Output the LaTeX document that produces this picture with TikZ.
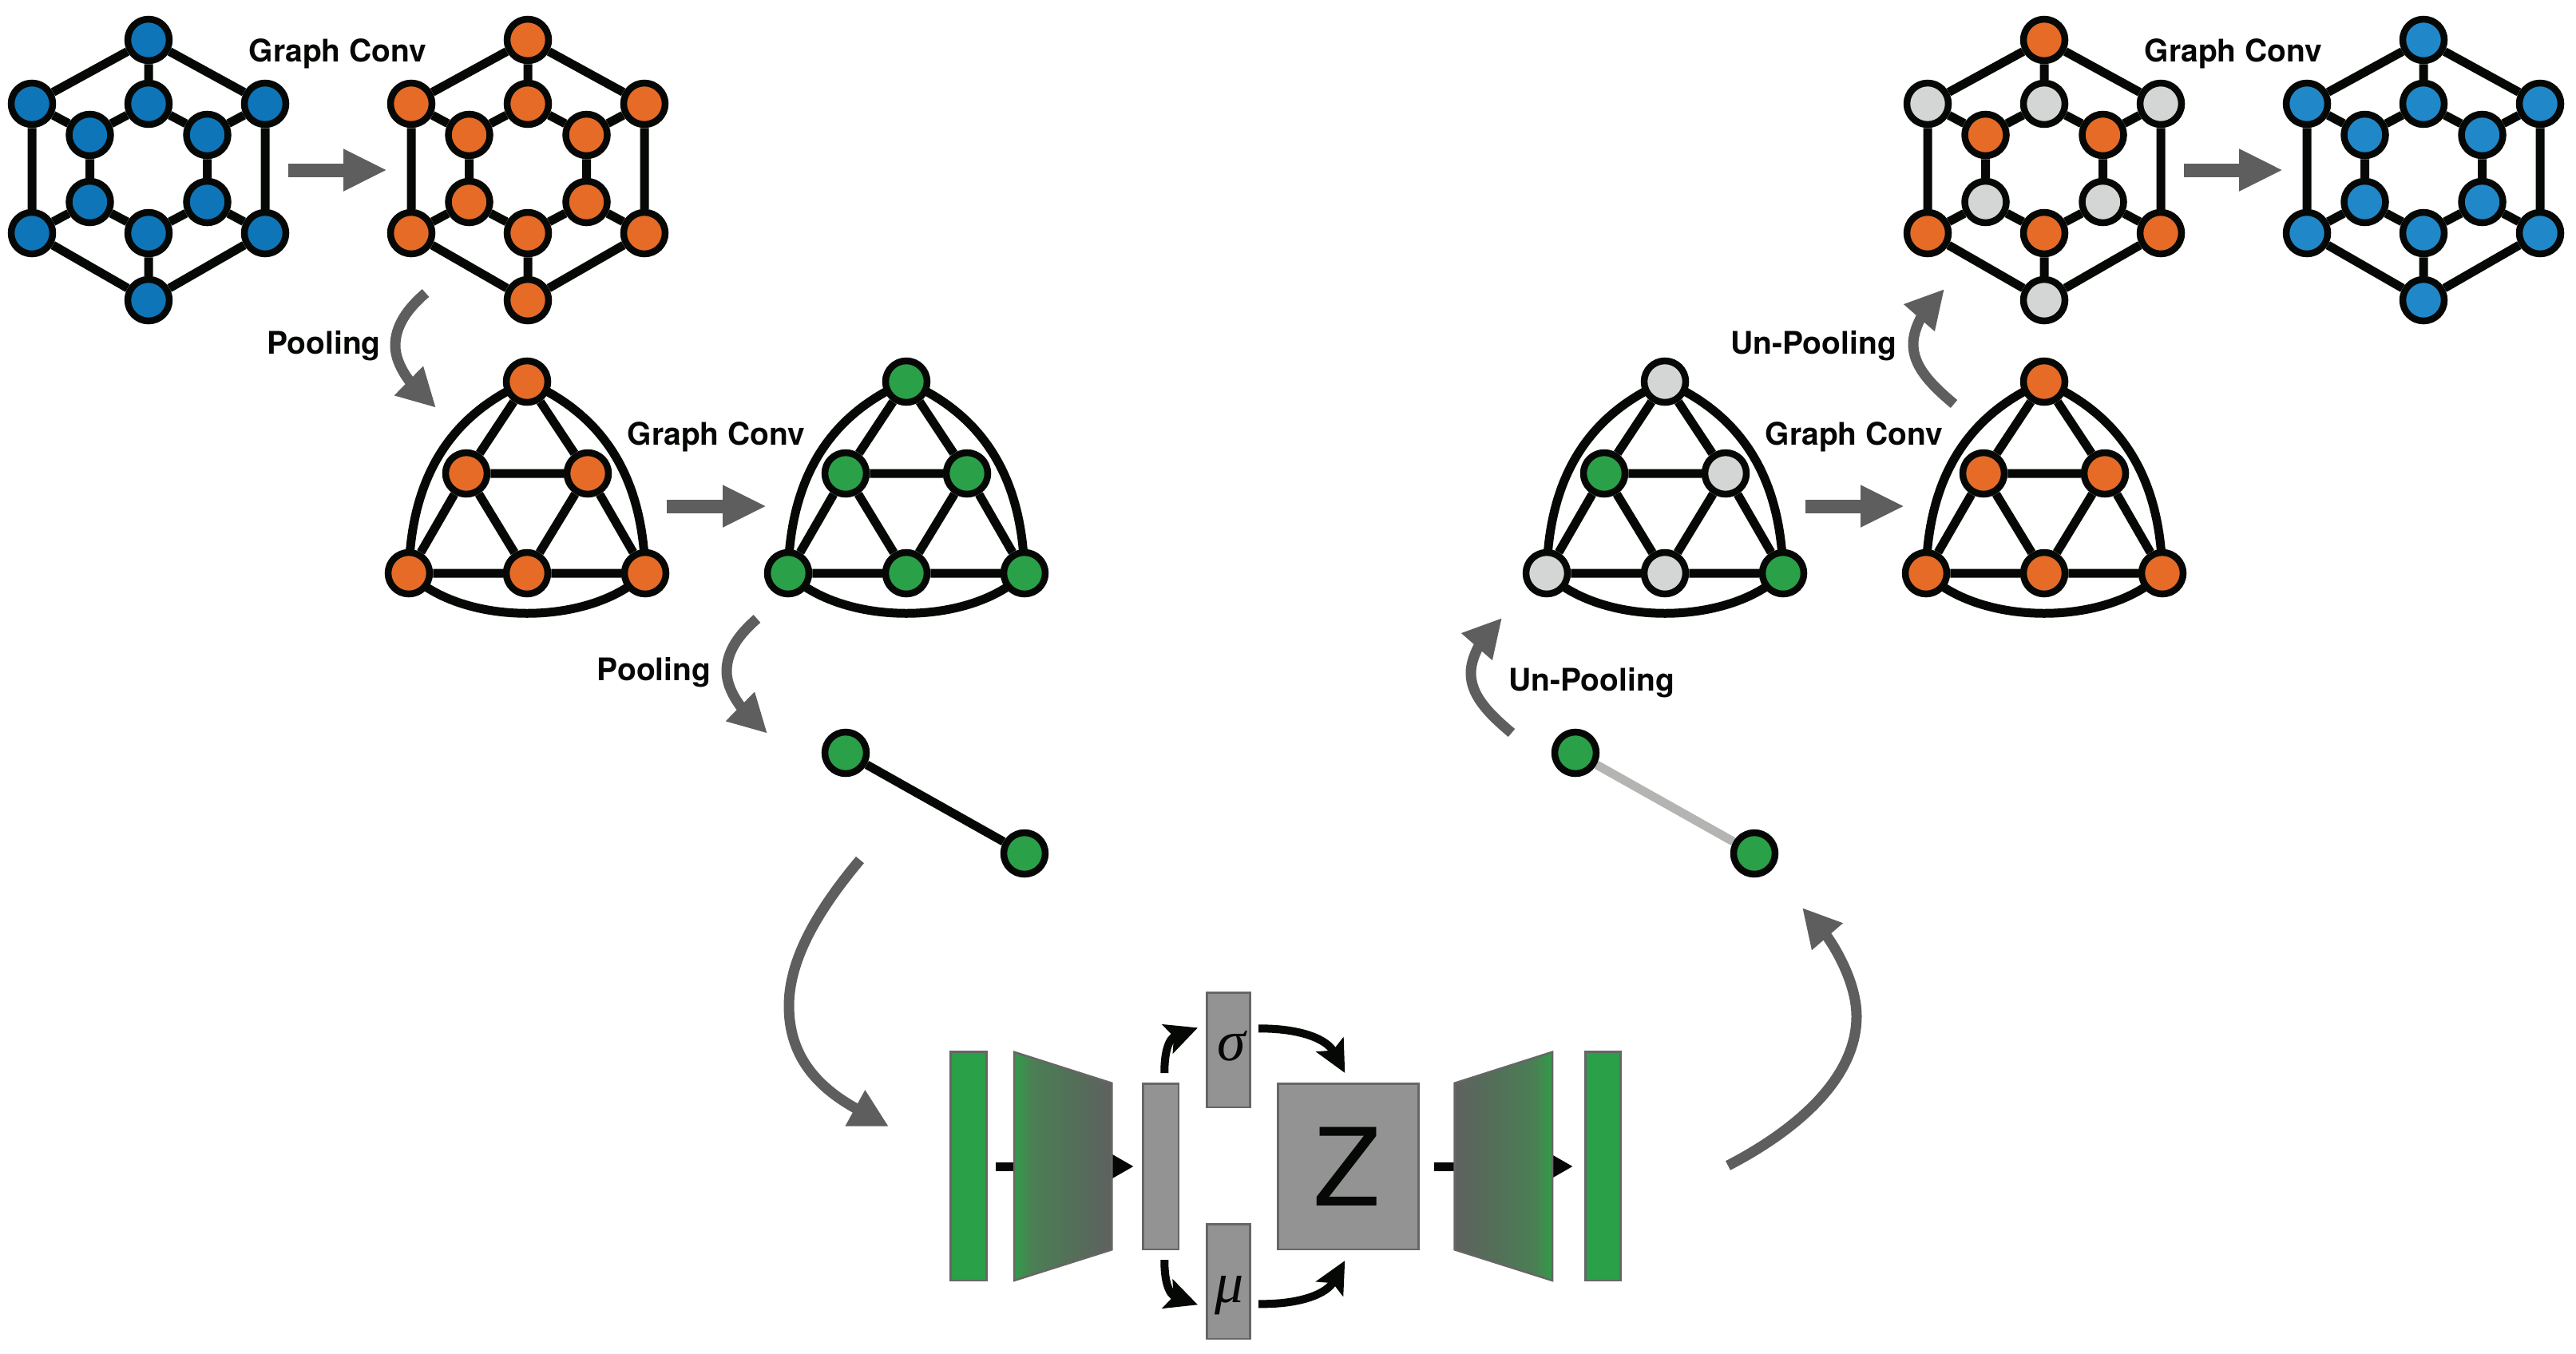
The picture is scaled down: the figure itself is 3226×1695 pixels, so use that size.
\documentclass[tikz,border=0pt]{standalone}
\usepackage{fontspec}
\setmainfont{TeX Gyre Heros}
\newfontfamily\grkfont{Liberation Serif}
\usetikzlibrary{arrows.meta,backgrounds}
\definecolor{cblue}{HTML}{0F75B9}
\definecolor{cblueb}{HTML}{2088C9}
\definecolor{corange}{HTML}{E56B27}
\definecolor{cgreen}{HTML}{2AA048}
\definecolor{cgray}{HTML}{D4D6D5}
\definecolor{cpanel}{HTML}{939393}
\definecolor{cframe}{HTML}{666666}
\definecolor{carrow}{HTML}{5E5E5E}
\definecolor{cfaint}{HTML}{B4B4B2}
\definecolor{cink}{HTML}{060806}
\definecolor{gradA}{HTML}{2F9C48}
\definecolor{gradB}{HTML}{408C4E}
\definecolor{gradC}{HTML}{4B7E55}
\definecolor{gradD}{HTML}{536F58}
\definecolor{gradE}{HTML}{5F6160}
\pgfdeclarehorizontalshading{encshade}{100bp}{color(0bp)=(gradA); color(25bp)=(gradA); color(30bp)=(gradB); color(35bp)=(gradC); color(55bp)=(gradD); color(75bp)=(gradE); color(100bp)=(gradE)}
\tikzset{
  vertex/.style={circle,draw=cink,line width=8.5pt,minimum size=52pt,inner sep=0pt,fill=#1},
  edgeline/.style={draw=cink,line width=11pt},
  flowarrow/.style={draw=carrow,line width=17pt,-{Triangle[length=55pt,width=49pt]},carrow},
  bendarrow/.style={draw=carrow,line width=13pt,-{Triangle[length=48pt,width=48pt]},carrow},
  netarrow/.style={draw=cink,line width=11pt,-{Triangle[length=40pt,width=42pt]},cink},
  looparrow/.style={draw=cink,line width=10pt,-{Stealth[length=40pt,width=38pt,inset=8pt]},cink},
  label/.style={anchor=base,inner sep=0pt,font=\fontsize{39}{41}\selectfont\bfseries,text=cink},
  panel/.style={draw=cframe,line width=2.5pt,fill=cpanel,inner sep=0pt},
  layerbar/.style={draw=cframe,line width=2.5pt,fill=cgreen},
  trap/.style={draw=cframe,line width=2.5pt}
}
\newcommand{\hexgraph}[8]{%
  \begin{scope}[xshift=#2pt]
    \node[vertex=#3] (#1t) at (0,50) {};
    \node[vertex=#4] (#1ul) at (-146,130) {};
    \node[vertex=#4] (#1uc) at (0,130) {};
    \node[vertex=#4] (#1ur) at (146,130) {};
    \node[vertex=#5] (#1il) at (-73.5,169) {};
    \node[vertex=#5] (#1ir) at (73.5,169) {};
    \node[vertex=#6] (#1jl) at (-73.5,253) {};
    \node[vertex=#6] (#1jr) at (73.5,253) {};
    \node[vertex=#7] (#1ll) at (-146,292) {};
    \node[vertex=#7] (#1lc) at (0,292) {};
    \node[vertex=#7] (#1lr) at (146,292) {};
    \node[vertex=#8] (#1b) at (0,376) {};
    \begin{scope}[on background layer]
      \draw[edgeline] (#1t)--(#1ul) (#1t)--(#1ur) (#1t)--(#1uc)
        (#1ul)--(#1ll) (#1ur)--(#1lr)
        (#1ul)--(#1il) (#1uc)--(#1il) (#1uc)--(#1ir) (#1ur)--(#1ir)
        (#1il)--(#1jl) (#1ir)--(#1jr)
        (#1ll)--(#1jl) (#1lc)--(#1jl) (#1lc)--(#1jr) (#1lr)--(#1jr)
        (#1ll)--(#1b) (#1lr)--(#1b) (#1lc)--(#1b);
    \end{scope}
  \end{scope}}
\newcommand{\trigraph}[8]{%
  \begin{scope}[xshift=#2pt]
    \node[vertex=#3] (#1t) at (0,478) {};
    \node[vertex=#4] (#1ml) at (-76,593) {};
    \node[vertex=#5] (#1mr) at (76,593) {};
    \node[vertex=#6] (#1bl) at (-148,718) {};
    \node[vertex=#7] (#1bc) at (0,718) {};
    \node[vertex=#8] (#1br) at (148,718) {};
    \begin{scope}[on background layer]
      \draw[edgeline] (#1t)--(#1ml) (#1t)--(#1mr) (#1ml)--(#1mr)
        (#1ml)--(#1bl) (#1ml)--(#1bc) (#1mr)--(#1bc) (#1mr)--(#1br)
        (#1bl)--(#1bc) (#1bc)--(#1br);
      \draw[edgeline] (#1bl.center) .. controls (-145,585) and (-85,515) .. (#1t.center);
      \draw[edgeline] (#1br.center) .. controls (145,585) and (85,515) .. (#1t.center);
      \draw[edgeline] (#1bl.center) .. controls (-80,785) and (80,785) .. (#1br.center);
    \end{scope}
  \end{scope}}
\begin{document}
\begin{tikzpicture}[x=1pt,y=-1pt]
\useasboundingbox (0,0) rectangle (3226,1695);
\begin{scope}[on background layer]
  \fill[white] (0,0) rectangle (3226,1695);
\end{scope}

% encoder graphs
\hexgraph{a}{186}{cblue}{cblue}{cblue}{cblue}{cblue}{cblue}
\hexgraph{b}{661}{corange}{corange}{corange}{corange}{corange}{corange}
\trigraph{c}{660}{corange}{corange}{corange}{corange}{corange}{corange}
\trigraph{d}{1135}{cgreen}{cgreen}{cgreen}{cgreen}{cgreen}{cgreen}
\node[vertex=cgreen] (e1) at (1059,943) {};
\node[vertex=cgreen] (e2) at (1283,1069) {};
\begin{scope}[on background layer]
  \draw[edgeline] (e1)--(e2);
\end{scope}

% decoder graphs
\node[vertex=cgreen] (f1) at (1973,943) {};
\node[vertex=cgreen] (f2) at (2197,1069) {};
\begin{scope}[on background layer]
  \draw[draw=cfaint,line width=11pt] (f1)--(f2);
\end{scope}
\trigraph{g}{2085}{cgray}{cgreen}{cgray}{cgray}{cgray}{cgreen}
\trigraph{h}{2560}{corange}{corange}{corange}{corange}{corange}{corange}
\hexgraph{i}{2560}{corange}{cgray}{corange}{cgray}{corange}{cgray}
\hexgraph{j}{3035}{cblueb}{cblueb}{cblueb}{cblueb}{cblueb}{cblueb}

% labels
\node[label] (l1) at (423,77) {Graph Conv};
\node[label] (l2) at (897,557) {Graph Conv};
\node[label] (l3) at (2322,557) {Graph Conv};
\node[label] (l4) at (2797,77) {Graph Conv};
\node[label] (l5) at (405.5,443) {Pooling};
\node[label] (l6) at (819,852.5) {Pooling};
\node[label] (l7) at (1993,865) {Un-Pooling};
\node[label] (l8) at (2271,443) {Un-Pooling};

% straight arrows
\coordinate (s1a) at (361,213); \coordinate (s1b) at (485,213);
\coordinate (s2a) at (835,634); \coordinate (s2b) at (960,634);
\coordinate (s3a) at (2261,634); \coordinate (s3b) at (2385,634);
\coordinate (s4a) at (2735,213); \coordinate (s4b) at (2859,213);
\draw[flowarrow] (s1a)--(s1b);
\draw[flowarrow] (s2a)--(s2b);
\draw[flowarrow] (s3a)--(s3b);
\draw[flowarrow] (s4a)--(s4b);

% curved grey arrows
\draw[bendarrow] (533,367) .. controls (510,387) and (495,408) .. (495,433) .. controls (495,460) and (520,485) .. (546,510.7);
\draw[bendarrow] (948,775) .. controls (925,795) and (910,816) .. (910,841) .. controls (910,868) and (935,893) .. (961,918.7);
\draw[bendarrow] (1077,1077) .. controls (1020,1145) and (988,1205) .. (988,1260) .. controls (988,1320) and (1020,1360) .. (1113,1411);
\draw[bendarrow] (2164,1460) .. controls (2260,1410) and (2325,1345) .. (2325,1273) .. controls (2325,1225) and (2290,1175) .. (2257,1137);
\draw[bendarrow] (1893,918) .. controls (1862,892) and (1842,870) .. (1842,843) .. controls (1842,820) and (1860,798) .. (1881,774);
\draw[bendarrow] (2447,506) .. controls (2416,480) and (2396,458) .. (2396,431) .. controls (2396,408) and (2414,386) .. (2435,362);

% network: arrows pass behind the trapezoids
\coordinate (n1a) at (1247,1461); \coordinate (n1b) at (1420,1461);
\coordinate (n2a) at (1796,1461); \coordinate (n2b) at (1970,1461);
\draw[netarrow] (n1a)--(n1b);
\draw[netarrow] (n2a)--(n2b);

\filldraw[layerbar] (1190.7,1317.7) rectangle (1235.3,1604);
\filldraw[layerbar] (1985.7,1317.7) rectangle (2029.3,1604);
\shade[shading=encshade] (1270,1317.7) -- (1392.3,1356.7) -- (1392.3,1565.3) -- (1270,1604) -- cycle;
\draw[trap] (1270,1317.7) -- (1392.3,1356.7) -- (1392.3,1565.3) -- (1270,1604) -- cycle;
\shade[shading=encshade,shading angle=180] (1821.7,1356.7) -- (1944,1317.7) -- (1944,1604) -- (1821.7,1565.3) -- cycle;
\draw[trap] (1821.7,1356.7) -- (1944,1317.7) -- (1944,1604) -- (1821.7,1565.3) -- cycle;

\node[panel,minimum width=44.3pt,minimum height=207.7pt] (pre) at (1453.8,1461.2) {};
\node[panel,minimum width=53.6pt,minimum height=143.3pt] (sig) at (1538.5,1315.3) {};
\node[panel,minimum width=53.6pt,minimum height=143.3pt] (muu) at (1538.5,1605.3) {};
\node[panel,minimum width=175.6pt,minimum height=207.7pt] (zed) at (1688.5,1461.2) {};
\node[inner sep=0pt,font=\fontsize{135}{135}\selectfont,text=cink,anchor=base] (zedt) at (1686.5,1510.7) {Z};
\node[inner sep=0pt,font=\grkfont\itshape\fontsize{72}{72}\selectfont,text=cink] (sigt) at (1542,1310) {σ};
\node[inner sep=0pt,font=\grkfont\itshape\fontsize{72}{72}\selectfont,text=cink] (mut) at (1540,1623) {μ};

\coordinate (c1a) at (1458.3,1344); \coordinate (c1b) at (1500,1287.3);
\coordinate (c2a) at (1576,1288.3); \coordinate (c2b) at (1684.3,1344);
\coordinate (c3a) at (1458.3,1578); \coordinate (c3b) at (1500,1634.3);
\coordinate (c4a) at (1576,1633.3); \coordinate (c4b) at (1684.3,1579);
\draw[looparrow] (c1a) .. controls (1458,1320) and (1463,1301) .. (c1b);
\draw[looparrow] (c2a) .. controls (1630,1288) and (1662,1302) .. (c2b);
\draw[looparrow] (c3a) .. controls (1458,1602) and (1463,1621) .. (c3b);
\draw[looparrow] (c4a) .. controls (1630,1634) and (1662,1620) .. (c4b);
\end{tikzpicture}
\end{document}
